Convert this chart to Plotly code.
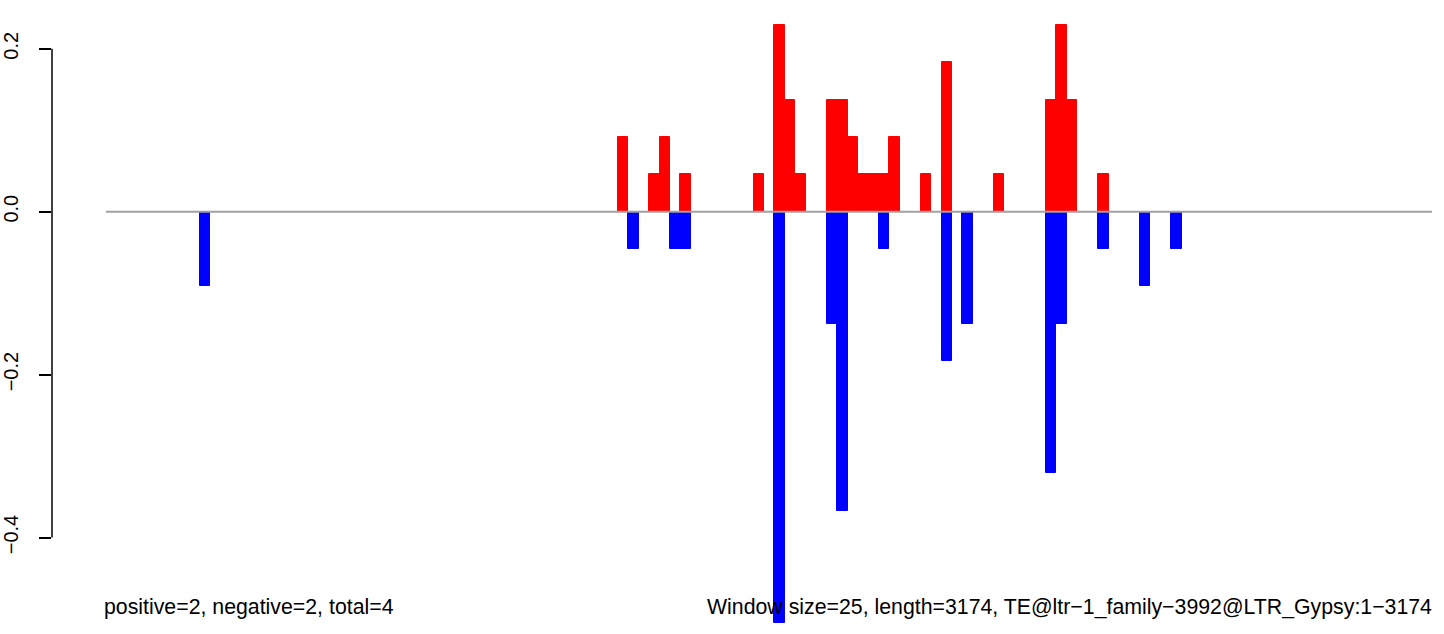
import plotly.graph_objects as go

# ---- data ----
seq_length = 3174
window_size = 25

# window start positions (bp) and values, sense (positive) strand
pos_start = [1225, 1300, 1325, 1375, 1550, 1600, 1625, 1650, 1725, 1750, 1775,
             1800, 1825, 1850, 1875, 1950, 2000, 2125, 2250, 2275, 2300, 2375]
pos_vals = [0.0918, 0.0459, 0.0918, 0.0459, 0.0459, 0.2295, 0.1377, 0.0459, 0.1377, 0.1377, 0.0918,
            0.0459, 0.0459, 0.0459, 0.0918, 0.0459, 0.1836, 0.0459, 0.1377, 0.2295, 0.1377, 0.0459]

# antisense (negative) strand
neg_start = [225, 1250, 1350, 1375, 1600, 1725, 1750, 1850, 2000, 2050, 2250, 2275, 2375, 2475, 2550]
neg_vals = [-0.0918, -0.0459, -0.0459, -0.0459, -0.5049, -0.1377, -0.3672, -0.0459, -0.1836, -0.1377,
            -0.3213, -0.1377, -0.0459, -0.0918, -0.0459]

y_ticks = [-0.4, -0.2, 0.0, 0.2]
y_tick_labels = ["\u22120.4", "\u22120.2", "0.0", "0.2"]

left_note = "positive=2, negative=2, total=4"
right_note = "Window size=25, length=3174, TE@ltr\u22121_family\u22123992@LTR_Gypsy:1\u22123174"

FONT = "Liberation Sans, Arial, Helvetica, sans-serif"

fig = go.Figure()
fig.add_trace(go.Bar(x=pos_start, y=pos_vals, width=window_size, offset=0,
                     marker=dict(color="#FF0000", line=dict(color="#FF0000", width=1)),
                     hoverinfo="skip"))
fig.add_trace(go.Bar(x=neg_start, y=neg_vals, width=window_size, offset=0,
                     marker=dict(color="#0000FF", line=dict(color="#0000FF", width=1)),
                     hoverinfo="skip"))
fig.add_trace(go.Scatter(x=[0, seq_length], y=[0, 0], mode="lines",
                         line=dict(color="#A0A0A0", width=2), hoverinfo="skip"))

W, H = 1444, 634
ml, mr = 50, 12
pw = W - ml - mr
px_per_bp = (1432 - 104) / seq_length
x_left = -(104 - ml) / px_per_bp

zero_px = 211.7
px_per_unit = (538.0 - 49.3) / 0.6
y_top = zero_px / px_per_unit
y_bot = -(H - zero_px) / px_per_unit

fig.update_layout(
    width=W, height=H,
    margin=dict(l=ml, r=mr, t=0, b=0),
    paper_bgcolor="white", plot_bgcolor="white",
    showlegend=False, barmode="overlay", bargap=0,
    xaxis=dict(range=[x_left, seq_length], visible=False, fixedrange=True),
    yaxis=dict(range=[y_bot, y_top], showgrid=False, zeroline=False, showline=False,
               tickmode="array", tickvals=y_ticks, ticktext=y_tick_labels,
               ticks="outside", ticklen=12, tickwidth=1.5, tickcolor="black",
               tickangle=-90, ticklabelstandoff=13,
               tickfont=dict(family=FONT, size=20, color="black"), fixedrange=True),
    shapes=[dict(type="line", xref="paper", x0=0, x1=0, yref="y", y0=y_ticks[0], y1=y_ticks[-1],
                 line=dict(color="black", width=1.5))],
    annotations=[
        dict(text=left_note, xref="paper", yref="paper",
             x=(100 - ml) / pw, y=(H - 607) / H,
             xanchor="left", yanchor="middle", showarrow=False,
             font=dict(family=FONT, size=21.3, color="black")),
        dict(text=right_note, xref="paper", yref="paper",
             x=(1434 - ml) / pw, y=(H - 607) / H,
             xanchor="right", yanchor="middle", showarrow=False,
             font=dict(family=FONT, size=21.3, color="black")),
    ],
)

fig.write_html("out.html", config={"displayModeBar": False},
               post_script="document.body.style.margin='0';document.body.style.overflow='hidden';")
